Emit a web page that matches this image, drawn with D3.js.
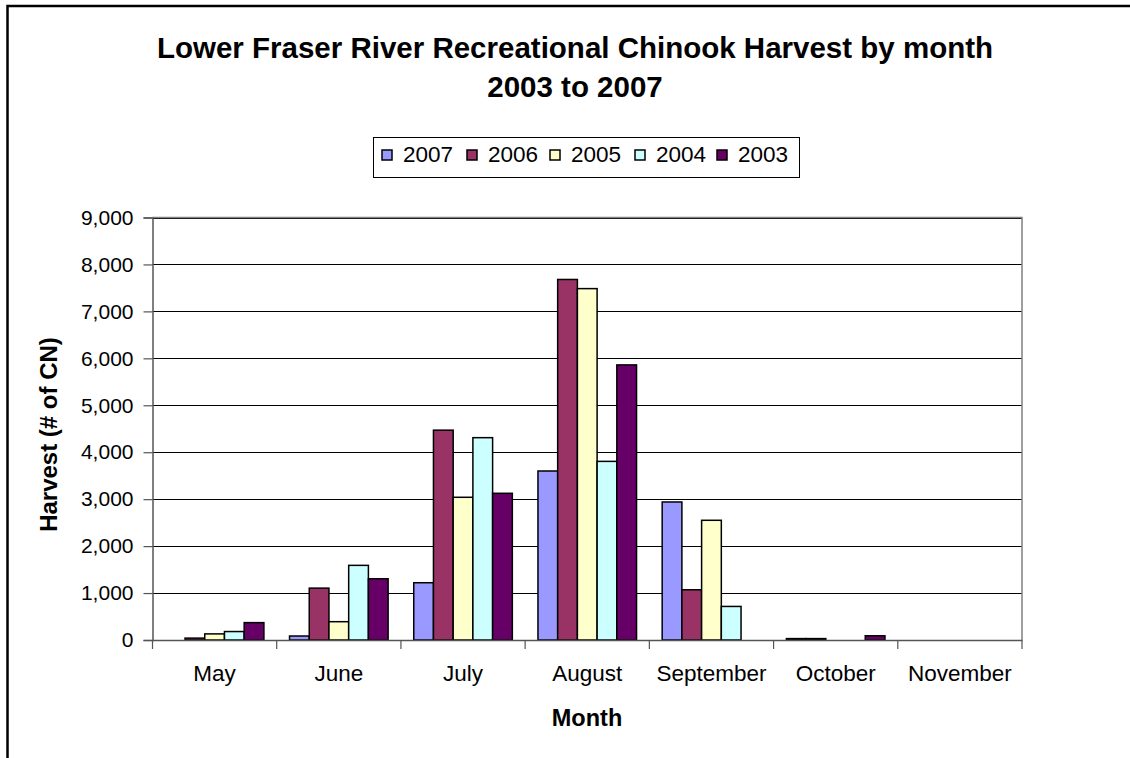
<!DOCTYPE html>
<html>
<head>
<meta charset="utf-8">
<script src="https://cdn.jsdelivr.net/npm/d3@7"></script>
<style>
  html, body { margin: 0; padding: 0; background: #fff; }
  svg { display: block; font-family: "Liberation Sans", Arial, sans-serif; }
</style>
</head>
<body>
<svg id="chart" width="1130" height="758"></svg>
<script>
// Monthly recreational Chinook harvest, lower Fraser River
const months = ["May", "June", "July", "August", "September", "October", "November"];
const years = ["2007", "2006", "2005", "2004", "2003"];
const colors = ["#9999FF", "#993366", "#FFFFCC", "#CCFFFF", "#660066"];

const harvest2007 = [0, 85, 1220, 3600, 2940, 30, 0];
const harvest2006 = [40, 1105, 4470, 7680, 1070, 30, 0];
const harvest2005 = [130, 390, 3040, 7485, 2550, 0, 0];
const harvest2004 = [180, 1590, 4310, 3805, 715, 0, 0];
const harvest2003 = [370, 1305, 3125, 5860, 0, 90, 0];
const seriesValues = [harvest2007, harvest2006, harvest2005, harvest2004, harvest2003];

const yTicks = [0, 1000, 2000, 3000, 4000, 5000, 6000, 7000, 8000, 9000];

const svg = d3.select("#chart");
const FONT = "Liberation Sans, Arial, sans-serif";

// outer chart frame
svg.append("rect")
  .attr("x", 7.5).attr("y", 6).attr("width", 1140).attr("height", 800)
  .attr("fill", "#fff").attr("stroke", "#000").attr("stroke-width", 2.5);

const plot = { left: 152.5, right: 1022, top: 217.5, bottom: 640 };

const x0 = d3.scaleBand().domain(months).range([plot.left, plot.right]).paddingInner(0).paddingOuter(0);
const x1 = d3.scaleBand().domain(years).range([0, x0.bandwidth()]).paddingOuter(0.65).paddingInner(0);
const y = d3.scaleLinear().domain([0, 9000]).range([plot.bottom, plot.top]);

// gridlines
svg.append("g")
  .selectAll("line")
  .data(yTicks.slice(1))
  .join("line")
  .attr("x1", plot.left).attr("x2", plot.right)
  .attr("y1", d => Math.round(y(d)) + 0.5).attr("y2", d => Math.round(y(d)) + 0.5)
  .attr("stroke", "#000").attr("stroke-width", 1);

// plot area border (top & right)
svg.append("path")
  .attr("d", `M${plot.left},${plot.top}H${plot.right}V${plot.bottom}`)
  .attr("fill", "none").attr("stroke", "#808080").attr("stroke-width", 1.5);

// bars
const groups = svg.append("g")
  .selectAll("g")
  .data(months.map((m, i) => ({ month: m, vals: years.map((yr, j) => ({ year: yr, color: colors[j], value: seriesValues[j][i] })) })))
  .join("g")
  .attr("transform", d => `translate(${x0(d.month)},0)`);

groups.selectAll("rect")
  .data(d => d.vals.filter(v => v.value > 0))
  .join("rect")
  .attr("x", d => x1(d.year))
  .attr("width", x1.bandwidth())
  .attr("y", d => y(d.value))
  .attr("height", d => y(0) - y(d.value))
  .attr("fill", d => d.color)
  .attr("stroke", "#000")
  .attr("stroke-width", 1.5);

// y axis
const yAxis = d3.axisLeft(y).tickValues(yTicks).tickFormat(d3.format(",")).tickSize(9).tickPadding(10);
const gy = svg.append("g").attr("transform", `translate(${plot.left},0)`).call(yAxis);
gy.select(".domain").attr("stroke", "#555").attr("stroke-width", 1.5);
gy.selectAll(".tick line").attr("stroke", "#555").attr("stroke-width", 1.2);
gy.selectAll(".tick text").attr("font-size", 21).attr("fill", "#000").attr("font-family", FONT);

// x axis
const xAxis = d3.axisBottom(x0).tickSize(0).tickPadding(25);
const gx = svg.append("g").attr("transform", `translate(0,${plot.bottom})`).call(xAxis);
gx.select(".domain").attr("stroke", "#555").attr("stroke-width", 1.5);
gx.selectAll(".tick text").attr("font-size", 22.5).attr("fill", "#000").attr("font-family", FONT);
// category boundary ticks
svg.append("g")
  .selectAll("line")
  .data(months.map(m => x0(m)).concat([plot.right]))
  .join("line")
  .attr("x1", d => d).attr("x2", d => d)
  .attr("y1", plot.bottom).attr("y2", plot.bottom + 9)
  .attr("stroke", "#555").attr("stroke-width", 1.2);

// titles
const title = svg.append("text")
  .attr("text-anchor", "middle")
  .attr("font-size", 29.5).attr("font-weight", "bold");
title.append("tspan").attr("x", 575).attr("y", 58).text("Lower Fraser River Recreational Chinook Harvest by month");
title.append("tspan").attr("x", 575).attr("y", 97).text("2003 to 2007");

svg.append("text")
  .attr("x", 587).attr("y", 726)
  .attr("text-anchor", "middle")
  .attr("font-size", 23.5).attr("font-weight", "bold")
  .text("Month");

svg.append("text")
  .attr("transform", "translate(57,434.5) rotate(-90)")
  .attr("text-anchor", "middle")
  .attr("font-size", 24).attr("font-weight", "bold")
  .text("Harvest (# of CN)");

// legend
const legend = svg.append("g");
legend.append("rect")
  .attr("x", 373.5).attr("y", 137.5).attr("width", 426).attr("height", 40)
  .attr("fill", "#fff").attr("stroke", "#000").attr("stroke-width", 1);
const legendX = [382, 467, 550, 635, 717];
const items = legend.selectAll("g.item")
  .data(years.map((yr, i) => ({ year: yr, color: colors[i], x: legendX[i] })))
  .join("g").attr("class", "item")
  .attr("transform", d => `translate(${d.x},150)`);
items.append("rect")
  .attr("width", 10).attr("height", 10)
  .attr("fill", d => d.color).attr("stroke", "#000").attr("stroke-width", 1.5);
items.append("text")
  .attr("x", 21).attr("y", 12)
  .attr("font-size", 22.5)
  .text(d => d.year);
</script>
</body>
</html>
